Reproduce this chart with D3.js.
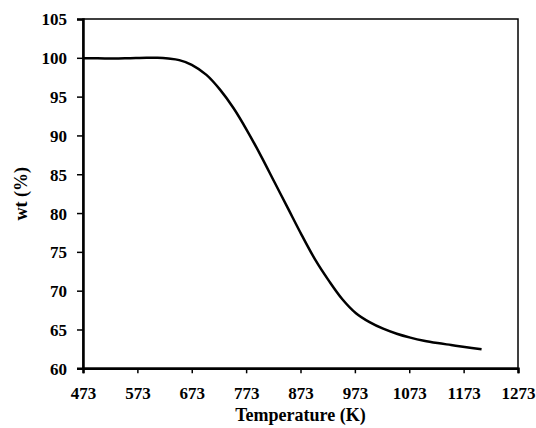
<!DOCTYPE html>
<html><head><meta charset="utf-8">
<script src="https://cdn.jsdelivr.net/npm/d3@7"></script>
<style>body{margin:0;background:#fff}svg{display:block}</style>
</head><body><div id="chart"></div>
<script>
const temperature = [473,500,530,560,590,610,630,650,673,700,725,750,775,800,825,850,875,900,925,950,975,1000,1025,1050,1075,1100,1125,1150,1175,1206];
const weight      = [99.95,99.95,99.9,99.95,100.0,100.0,99.9,99.7,99.1,97.8,95.9,93.5,90.6,87.4,84.0,80.6,77.2,74.0,71.3,68.9,67.1,65.95,65.1,64.45,63.95,63.55,63.25,63.0,62.75,62.45];
const xTicks = [473,573,673,773,873,973,1073,1173,1273];
const yTicks = [60,65,70,75,80,85,90,95,100,105];

const W = 536, H = 428;
const m = {left:83, right:18, top:19, bottom:60};
const svg = d3.select("#chart").append("svg").attr("width",W).attr("height",H);
const x = d3.scaleLinear().domain([473,1273]).range([m.left, W-m.right]);
const y = d3.scaleLinear().domain([60,105]).range([H-m.bottom+0.3, m.top]);
const font = "'Liberation Serif','Times New Roman',serif";

svg.append("rect").attr("x",x(473)).attr("y",y(105)).attr("width",x(1273)-x(473)).attr("height",y(60)-y(105))
  .attr("fill","none").attr("stroke","#000").attr("stroke-width",1.5);

const xa = svg.append("g").attr("transform",`translate(0,${y(60)})`)
  .call(d3.axisBottom(x).tickValues(xTicks).tickSize(5).tickPadding(14).tickFormat(d3.format("d")));
const ya = svg.append("g").attr("transform",`translate(${x(473)},0)`)
  .call(d3.axisLeft(y).tickValues(yTicks).tickSize(6).tickPadding(10).tickFormat(d3.format("d")));
[xa,ya].forEach(g=>{
  g.select(".domain").attr("stroke","#000").attr("stroke-width",2.5);
  g.selectAll(".tick line").attr("stroke","#000").attr("stroke-width",1.5);
  g.selectAll(".tick text").attr("fill","#000").style("font-family",font).style("font-weight","bold").style("font-size","17px");
});
ya.selectAll(".tick text").attr("dy","0.35em");

svg.append("path").datum(temperature.map((t,i)=>[t,weight[i]]))
  .attr("fill","none").attr("stroke","#000").attr("stroke-width",2.5)
  .attr("d", d3.line().x(d=>x(d[0])).y(d=>y(d[1])).curve(d3.curveCatmullRom.alpha(0.5)));

svg.append("text").attr("x",(x(473)+x(1273))/2).attr("y",421)
  .attr("text-anchor","middle").style("font-family",font).style("font-weight","bold").style("font-size","18px")
  .text("Temperature (K)");
svg.append("text").attr("transform",`translate(27,${(y(60)+y(105))/2}) rotate(-90)`)
  .attr("text-anchor","middle").style("font-family",font).style("font-weight","bold").style("font-size","18px")
  .text("wt (%)");
</script></body></html>
